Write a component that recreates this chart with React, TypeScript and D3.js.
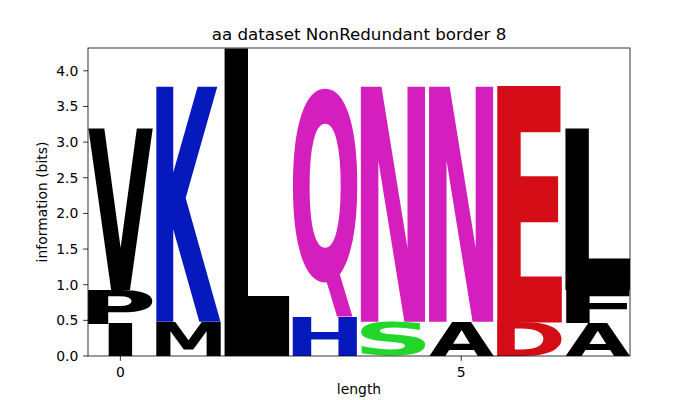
import { useEffect, useRef } from 'react'
import * as d3 from 'd3'

// sequence logo data: letters stacked bottom to top, heights in bits
const positions = [0, 1, 2, 3, 4, 5, 6, 7]
const glyphs = [
  ['I', 'P', 'V'],
  ['M', 'K'],
  ['L'],
  ['H', 'Q'],
  ['S', 'N'],
  ['A', 'N'],
  ['D', 'E'],
  ['A', 'F', 'L'],
]
const bits = [
  [0.45, 0.47, 2.27],
  [0.48, 3.3],
  [4.32],
  [0.54, 3.2],
  [0.48, 3.3],
  [0.48, 3.3],
  [0.47, 3.32],
  [0.46, 0.46, 2.26],
]
const xTicks = [0, 5]
const yTicks = [0, 0.5, 1, 1.5, 2, 2.5, 3, 3.5, 4]
const yMax = 4.32

const colors: Record<string, string> = {
  A: '#000000', V: '#000000', L: '#000000', I: '#000000', P: '#000000',
  W: '#000000', F: '#000000', M: '#000000',
  K: '#0619bd', R: '#0619bd', H: '#0619bd',
  N: '#d41fbe', Q: '#d41fbe',
  D: '#d30c16', E: '#d30c16',
  G: '#22d62a', S: '#22d62a', T: '#22d62a', Y: '#22d62a', C: '#22d62a',
}

export default function App() {
  const svgRef = useRef<SVGSVGElement>(null)

  useEffect(() => {
    if (!svgRef.current) return
    const width = 700
    const height = 400
    const margin = { top: 48, right: 70, bottom: 44, left: 88 }
    const font = 'DejaVu Sans'

    const svg = d3.select(svgRef.current)
    svg.selectAll('*').remove()
    svg.attr('width', width).attr('height', height)

    const x = d3.scaleLinear().domain([-0.475, 7.475]).range([margin.left, width - margin.right])
    const y = d3.scaleLinear().domain([0, yMax]).range([height - margin.bottom, margin.top])

    svg.append('defs').append('clipPath').attr('id', 'plot-clip')
      .append('rect')
      .attr('x', margin.left).attr('y', margin.top)
      .attr('width', width - margin.left - margin.right)
      .attr('height', height - margin.top - margin.bottom)

    // measure tight glyph boxes with canvas
    const ctx = document.createElement('canvas').getContext('2d')!
    const fs = 200
    ctx.font = `bold ${fs}px '${font}'`
    const box = (ch: string) => {
      const m = ctx.measureText(ch)
      return {
        x0: -m.actualBoundingBoxLeft,
        w: m.actualBoundingBoxLeft + m.actualBoundingBoxRight,
        y0: -m.actualBoundingBoxAscent,
        h: m.actualBoundingBoxAscent + m.actualBoundingBoxDescent,
      }
    }
    const eBox = box('E')
    const colW = x(0.95) - x(0)

    const g = svg.append('g').attr('clip-path', 'url(#plot-clip)')
    positions.forEach((p, i) => {
      let base = 0
      glyphs[i].forEach((ch, j) => {
        const hgt = bits[i][j]
        const yBot = y(base)
        const yTop = y(base + hgt)
        base += hgt
        const b = box(ch)
        const sx = Math.min(colW / b.w, colW / eBox.w)
        const sy = (yBot - yTop) / b.h
        const tx = x(p) - (b.w * sx) / 2 - b.x0 * sx
        const ty = yTop - b.y0 * sy
        g.append('text')
          .attr('transform', `translate(${tx},${ty}) scale(${sx},${sy})`)
          .attr('font-family', font)
          .attr('font-weight', 'bold')
          .attr('font-size', fs)
          .attr('fill', colors[ch])
          .text(ch)
      })
    })

    // frame
    svg.append('rect')
      .attr('x', margin.left).attr('y', margin.top)
      .attr('width', width - margin.left - margin.right)
      .attr('height', height - margin.top - margin.bottom)
      .attr('fill', 'none').attr('stroke', '#000').attr('stroke-width', 0.8)

    const tickFont = 13.9
    // x ticks
    xTicks.forEach((t) => {
      svg.append('line')
        .attr('x1', x(t)).attr('x2', x(t))
        .attr('y1', y(0)).attr('y2', y(0) + 4.9)
        .attr('stroke', '#000').attr('stroke-width', 0.8)
      svg.append('text')
        .attr('x', x(t)).attr('y', 376.5)
        .attr('text-anchor', 'middle')
        .attr('font-family', font).attr('font-size', tickFont)
        .text(String(t))
    })
    // y ticks
    yTicks.forEach((t) => {
      svg.append('line')
        .attr('x1', margin.left - 4.9).attr('x2', margin.left)
        .attr('y1', y(t)).attr('y2', y(t))
        .attr('stroke', '#000').attr('stroke-width', 0.8)
      svg.append('text')
        .attr('x', margin.left - 9.7).attr('y', y(t))
        .attr('dy', '0.36em')
        .attr('text-anchor', 'end')
        .attr('font-family', font).attr('font-size', tickFont)
        .text(t.toFixed(1))
    })

    svg.append('text')
      .attr('x', (margin.left + width - margin.right) / 2).attr('y', 394)
      .attr('text-anchor', 'middle')
      .attr('font-family', font).attr('font-size', tickFont)
      .text('length')

    svg.append('text')
      .attr('transform', `translate(47,${(margin.top + height - margin.bottom) / 2}) rotate(-90)`)
      .attr('text-anchor', 'middle')
      .attr('font-family', font).attr('font-size', tickFont)
      .text('information (bits)')

    svg.append('text')
      .attr('x', (margin.left + width - margin.right) / 2).attr('y', 40)
      .attr('text-anchor', 'middle')
      .attr('font-family', font).attr('font-size', 16.7)
      .text('aa dataset NonRedundant border 8')
  }, [])

  return (
    <div style={{ position: 'absolute', left: 0, top: 0 }}>
      <svg ref={svgRef} style={{ display: 'block' }}></svg>
    </div>
  )
}
